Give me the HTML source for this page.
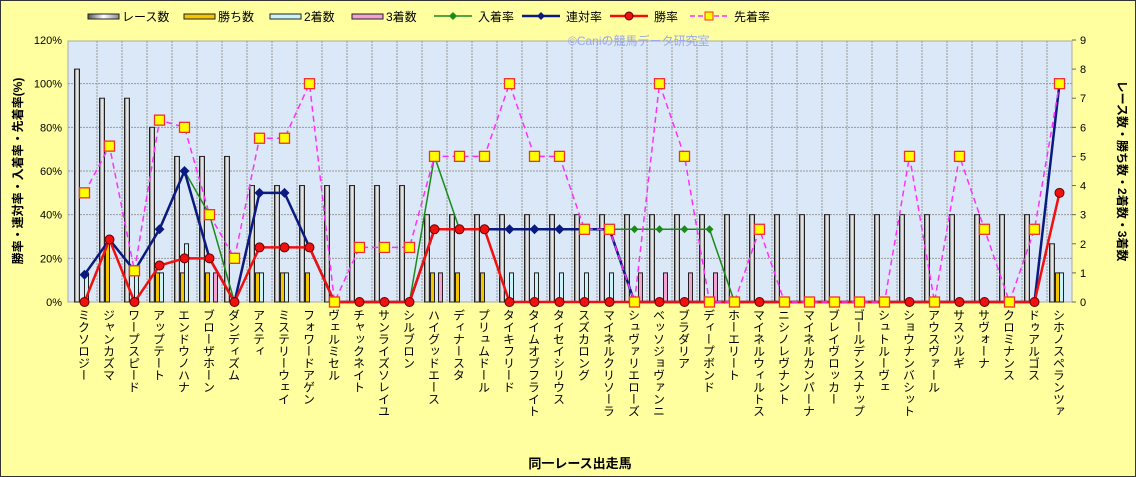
<!DOCTYPE html>
<html><head><meta charset="utf-8">
<style>
html,body{margin:0;padding:0;background:#FFFFA0;}
svg{display:block;font-family:"Liberation Sans","Noto Sans CJK JP",sans-serif;}
</style></head>
<body>
<svg id="c" width="1136" height="477" viewBox="0 0 1136 477">
<defs>
<linearGradient id="gRace" x1="0" x2="1"><stop offset="0" stop-color="#555"/><stop offset="0.5" stop-color="#fff"/><stop offset="1" stop-color="#888"/></linearGradient>
</defs>
<rect x="0.5" y="0.5" width="1135" height="476" fill="#FFFFA0" stroke="#333"/>
<rect x="68" y="41" width="1004" height="261" fill="#dbe8f7" stroke="#aaa"/>
<g id="grid"></g>
<g id="bars"></g>
<g id="lines"></g>
<g id="axes"></g>
<text x="568" y="45" font-size="12" fill="#9aa8f0">©Caniの競馬データ研究室</text>
<g id="legend"></g>
<text x="580" y="468" font-size="13" font-weight="bold" text-anchor="middle" fill="#000">同一レース出走馬</text>
<text transform="translate(22,171) rotate(-90)" font-size="12" font-weight="bold" text-anchor="middle">勝率・連対率・入着率・先着率(%)</text>
<text transform="translate(1118,171) rotate(90)" font-size="12" font-weight="bold" text-anchor="middle">レース数・勝ち数・2着数・3着数</text>
</svg>
<script>
const horses=["ミクソロジー","ジャンカズマ","ワープスピード","アップテート","エンドウノハナ","ブローザホーン","ダンディズム","アスティ","ミステリーウェイ","フォワードアゲン","ヴェルミセル","チャックネイト","サンライズソレイユ","シルブロン","ハイグッドエース","ディナースタ","プリュムドール","タイキフリード","タイムオブフライト","タイセイシリウス","スズカロング","マイネルクリソーラ","シュヴァリエローズ","ベッソジョヴァンニ","ブラダリア","ディープボンド","ホーエリート","マイネルウィルトス","ニシノレヴナント","マイネルカンパーナ","ブレイヴロッカー","ゴールデンスナップ","シュトルーヴェ","ショウナンバシット","アウスヴァール","サスツルギ","サヴォーナ","クロミナンス","ドゥアルゴス","シホノスペランツァ"];
const races=[8,7,7,6,5,5,5,4,4,4,4,4,4,4,3,3,3,3,3,3,3,3,3,3,3,3,3,3,3,3,3,3,3,3,3,3,3,3,3,2];
const wins=[0,2,0,1,1,1,0,1,1,1,0,0,0,0,1,1,1,0,0,0,0,0,0,0,0,0,0,0,0,0,0,0,0,0,0,0,0,0,0,1];
const seconds=[1,0,1,1,2,0,0,1,1,0,0,0,0,0,0,0,0,1,1,1,1,1,0,0,0,0,0,0,0,0,0,0,0,0,0,0,0,0,0,1];
const thirds=[0,0,0,0,0,1,0,0,0,0,0,0,0,0,1,0,0,0,0,0,0,0,1,1,1,1,0,0,0,0,0,0,0,0,0,0,0,0,0,0];
const placeRate=[12.5,28.6,14.3,33.3,60,40,0,50,50,25,0,0,0,0,66.7,33.3,33.3,33.3,33.3,33.3,33.3,33.3,33.3,33.3,33.3,33.3,0,0,0,0,0,0,0,0,0,0,0,0,0,100];
const rentaiRate=[12.5,28.6,14.3,33.3,60,20,0,50,50,25,0,0,0,0,33.3,33.3,33.3,33.3,33.3,33.3,33.3,33.3,0,0,0,0,0,0,0,0,0,0,0,0,0,0,0,0,0,100];
const winRate=[0,28.6,0,16.7,20,20,0,25,25,25,0,0,0,0,33.3,33.3,33.3,0,0,0,0,0,0,0,0,0,0,0,0,0,0,0,0,0,0,0,0,0,0,50];
const senchakuRate=[50,71.4,14.3,83.3,80,40,20,75,75,100,0,25,25,25,66.7,66.7,66.7,100,66.7,66.7,33.3,33.3,0,100,66.7,0,0,33.3,0,0,0,0,0,66.7,0,66.7,33.3,0,33.3,100];
const leftTicks=["0%","20%","40%","60%","80%","100%","120%"];
const rightTicks=["0","1","2","3","4","5","6","7","8","9"];

const NS="http://www.w3.org/2000/svg";
const X0=72,CW=25,Y0=302,YT=40;
const yL=v=>Y0-(v/120)*(Y0-YT);
const yR=v=>Y0-(v/9)*(Y0-YT);
const cx=i=>X0+CW*i+CW/2;
function mk(tag,attrs,parent){const e=document.createElementNS(NS,tag);for(const k in attrs)e.setAttribute(k,attrs[k]);parent.appendChild(e);return e;}
const grid=document.getElementById('grid'),bars=document.getElementById('bars'),lines=document.getElementById('lines'),axes=document.getElementById('axes'),legend=document.getElementById('legend');
// grid
for(let i=1;i<horses.length;i++){const l=mk('line',{x1:X0+CW*i,x2:X0+CW*i,y1:41,y2:Y0,stroke:'#999','stroke-dasharray':'2,1','stroke-width':1},grid);

}
for(let k=1;k<leftTicks.length-1;k++){const y=yL(k*20);const l=mk('line',{x1:68,x2:1072,y1:y,y2:y,stroke:'#999','stroke-dasharray':'2,1'},grid);

}
// left ticks
leftTicks.forEach((t,k)=>{const v=k*20;const e=mk('text',{x:62,y:yL(v)+4,'font-size':11,'text-anchor':'end'},axes);e.textContent=t;

});
rightTicks.forEach((t,k)=>{const e=mk('text',{x:1080,y:yR(k)+4,'font-size':11},axes);e.textContent=t;


mk('line',{x1:1072,x2:1076,y1:yR(k),y2:yR(k),stroke:'#666'},axes);});
// x labels
horses.forEach((h,i)=>{const e=mk('text',{x:cx(i)-1,y:309,'font-size':12,style:'writing-mode:vertical-rl;glyph-orientation-vertical:0'},axes);e.textContent=h;

});
// bars
function bar(off,w,val,fill,name,i){if(val<=0)return;const y=yR(val);const r=mk('rect',{x:X0+CW*i+off,y:y,width:w,height:Y0-y,fill:fill,stroke:'#222','stroke-width':1},bars);

}
horses.forEach((h,i)=>{bar(2.5,5,races[i],'url(#gRace)','bar-races',i);bar(8.5,4,wins[i],'#f5c400','bar-wins',i);bar(12.5,4,seconds[i],'#c8f4f8','bar-seconds',i);bar(16.5,4,thirds[i],'#f4a0d0','bar-thirds',i);});
// lines
function series(arr,color,width,dash,name){const d=arr.map((v,i)=>(i?'L':'M')+cx(i)+','+yL(v)).join(' ');const p=mk('path',{d:d,fill:'none',stroke:color,'stroke-width':width},lines);if(dash)p.setAttribute('stroke-dasharray',dash);

}
series(placeRate,'#1a8a1a',1.5,null,'line-place-rate');
placeRate.forEach((v,i)=>{const s=4;const m=mk('path',{d:`M${cx(i)},${yL(v)-s}L${cx(i)+s},${yL(v)}L${cx(i)},${yL(v)+s}L${cx(i)-s},${yL(v)}Z`,fill:'#1a8a1a'},lines);

});
series(rentaiRate,'#0a1a80',2.5,null,'line-rentai-rate');
rentaiRate.forEach((v,i)=>{const s=5;const m=mk('path',{d:`M${cx(i)},${yL(v)-s}L${cx(i)+s},${yL(v)}L${cx(i)},${yL(v)+s}L${cx(i)-s},${yL(v)}Z`,fill:'#0a1a80'},lines);

});
series(winRate,'#f01010',2.5,null,'line-win-rate');
winRate.forEach((v,i)=>{const m=mk('circle',{cx:cx(i),cy:yL(v),r:4.5,fill:'#f01010',stroke:'#600','stroke-width':1},lines);

});
series(senchakuRate,'#ff30ff',1.5,'6,4','line-senchaku-rate');
senchakuRate.forEach((v,i)=>{const m=mk('rect',{x:cx(i)-5,y:yL(v)-5,width:10,height:10,fill:'#ffff00',stroke:'#f03030','stroke-width':1.3},lines);

});
// legend
const legItems=[["レース数","bar","url(#gRace)",88],["勝ち数","bar","#f5c400",184],["2着数","bar","#c8f4f8",270],["3着数","bar","#f4a0d0",352],["入着率","line","#1a8a1a",434],["連対率","line","#0a1a80",522],["勝率","line","#f01010",610],["先着率","dash","#ff30ff",690]];
legItems.forEach(([t,type,col,x])=>{const g=mk('g',{},legend);


if(type==='bar'){mk('rect',{x:x,y:14,width:31,height:5,fill:col,stroke:'#222'},g);mk('text',{x:x+34,y:21,'font-size':12},g).textContent=t;}
else{mk('line',{x1:x,x2:x+38,y1:16,y2:16,stroke:col,'stroke-width':type==='line'&&col!=='#1a8a1a'?2.5:1.5,'stroke-dasharray':type==='dash'?'5,3':'none'},g);
if(col==='#f01010')mk('circle',{cx:x+19,cy:16,r:4,fill:col,stroke:'#600'},g);
else if(type==='dash')mk('rect',{x:x+15,y:12,width:8,height:8,fill:'#ff0',stroke:'#f03030'},g);
else mk('path',{d:`M${x+19},12L${x+23},16L${x+19},20L${x+15},16Z`,fill:col},g);
mk('text',{x:x+44,y:21,'font-size':12},g).textContent=t;}});
</script>
</body></html>
